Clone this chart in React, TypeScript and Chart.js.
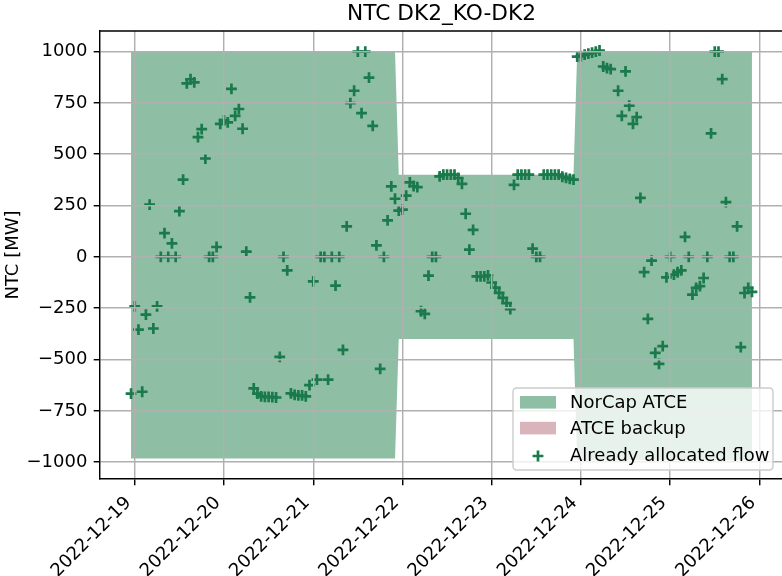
import React, { useEffect, useRef } from "react";
import { Chart, registerables } from "chart.js";

Chart.register(...registerables);

const TITLE = "NTC DK2_KO-DK2";
const Y_LABEL = "NTC [MW]";

// x values are hours since 2022-12-19 00:00
const fillHours = [-1, 70, 71, 118, 119, 166];
const fillUpper = [1000, 1000, 400, 400, 1000, 1000];
const fillLower = [-982, -982, -400, -400, -990, -990];

const flowHours = [
  -1, 0, 1, 2, 3, 4, 5, 6, 7, 8, 9, 10, 11, 12, 13, 14, 15, 16, 17, 18, 19, 20,
  21, 22, 23, 24, 25, 26, 27, 28, 29, 30, 31, 32, 33, 34, 35, 36, 37, 38, 39, 40,
  41, 42, 43, 44, 45, 46, 47, 48, 49, 50, 51, 52, 53, 54, 55, 56, 57, 58, 59, 60,
  61, 62, 63, 64, 65, 66, 67, 68, 69, 70, 71, 72, 73, 74, 75, 76, 77, 78, 79, 80,
  81, 82, 83, 84, 85, 86, 87, 88, 89, 90, 91, 92, 93, 94, 95, 96, 97, 98, 99, 100,
  101, 102, 103, 104, 105, 106, 107, 108, 109, 110, 111, 112, 113, 114, 115, 116,
  117, 118, 119, 120, 121, 122, 123, 124, 125, 126, 127, 128, 130, 131, 132, 133,
  134, 135, 136, 137, 138, 139, 140, 141, 142, 143, 144, 145, 146, 147, 148, 149,
  150, 151, 152, 153, 154, 155, 156, 157, 158, 159, 160, 161, 162, 163, 164, 165, 166,
];
const flowValues = [
  -666, -241, -354, -657, -281, 254, -349, -241, 0, 116, 0, 66, 0, 223, 376, 845, 865, 850, 583, 622, 479, 0,
  0, 48, 648, 665, 655, 818, 687, 720, 624, 25, -197, -641, -666, -680, -682, -682, -683, -685, -487, 0,
  -66, -665, -672, -675, -675, -680, -625, -119, -598, 0, 0, -598, 0, -140, 0, -453, 148, 749, 809, 1000,
  700, 1000, 873, 638, 56, -546, 0, 178, 343, 283, 225, 230, 298, 363, 345, 340, -265, -278, -91, 0,
  0, 392, 400, 400, 400, 400, 384, 355, 210, 35, 131, -95, -95, -95, -90, -125, -150, -175, -200, -225,
  -255, 351, 400, 400, 400, 400, 40, 0, 0, 400, 400, 400, 400, 400, 390, 385,
  380, 376, 975, 978, 985, 990, 995, 1000, 1005, 927, 919, 914, 809, 687, 903, 736,
  648, 681, 287, -74, -302, -18, -468, -521, -435, -100, 0, -87, -75, -66, 97, 0,
  -184, -151, -143, -103, 0, 601, 1000, 1000, 866, 267, 0, 0, 148, -440, -176, -151, -171,
];

const xTickLabels = [
  "2022-12-19", "2022-12-20", "2022-12-21", "2022-12-22",
  "2022-12-23", "2022-12-24", "2022-12-25", "2022-12-26",
];
const yTicks = [-1000, -750, -500, -250, 0, 250, 500, 750, 1000];
const legendLabels = ["NorCap ATCE", "ATCE backup", "Already allocated flow"];

const FILL_COLOR = "#8ebfa4";
const BACKUP_COLOR = "#d9b4bb";
const MARKER_COLOR = "#1a7a4c";
const GRID_COLOR = "#b0b0b0";
const FONT = '"DejaVu Sans", sans-serif';
const FS = 18;
const LW = 1.44;

function drawCross(ctx: CanvasRenderingContext2D, x: number, y: number, r: number, lw: number) {
  ctx.save();
  ctx.strokeStyle = MARKER_COLOR;
  ctx.lineWidth = lw;
  ctx.beginPath();
  ctx.moveTo(x - r, y);
  ctx.lineTo(x + r, y);
  ctx.moveTo(x, y - r);
  ctx.lineTo(x, y + r);
  ctx.stroke();
  ctx.restore();
}

const overlayPlugin = {
  id: "overlay",
  afterDraw(chart: any) {
    const { ctx, chartArea, scales } = chart;
    const { left, right, top, bottom } = chartArea;
    ctx.save();
    // top and right spines
    ctx.strokeStyle = "#000";
    ctx.lineWidth = LW;
    ctx.beginPath();
    ctx.moveTo(left, top);
    ctx.lineTo(right, top);
    ctx.lineTo(right, bottom);
    ctx.stroke();

    ctx.fillStyle = "#000";
    // title
    ctx.font = `21.7px ${FONT}`;
    ctx.textAlign = "center";
    ctx.textBaseline = "alphabetic";
    ctx.fillText(TITLE, (left + right) / 2, top - 10.8);

    // y label
    ctx.save();
    ctx.font = `${FS}px ${FONT}`;
    ctx.translate(18.3, (top + bottom) / 2);
    ctx.rotate(-Math.PI / 2);
    ctx.textAlign = "center";
    ctx.textBaseline = "alphabetic";
    ctx.fillText(Y_LABEL, 0, 0);
    ctx.restore();

    // x tick labels, rotated 45 degrees, right aligned to the tick
    ctx.font = `${FS}px ${FONT}`;
    xTickLabels.forEach((lab, i) => {
      const px = scales.x.getPixelForValue(i * 24);
      ctx.save();
      ctx.translate(px - 2.97, bottom + 24.5);
      ctx.rotate(-Math.PI / 4);
      ctx.textAlign = "right";
      ctx.textBaseline = "alphabetic";
      ctx.fillText(lab, 0, 0);
      ctx.restore();
    });

    // legend
    const lx = 513, ly = 388, lw = 260, lh = 82, rr = 4;
    ctx.beginPath();
    ctx.moveTo(lx + rr, ly);
    ctx.lineTo(lx + lw - rr, ly);
    ctx.quadraticCurveTo(lx + lw, ly, lx + lw, ly + rr);
    ctx.lineTo(lx + lw, ly + lh - rr);
    ctx.quadraticCurveTo(lx + lw, ly + lh, lx + lw - rr, ly + lh);
    ctx.lineTo(lx + rr, ly + lh);
    ctx.quadraticCurveTo(lx, ly + lh, lx, ly + lh - rr);
    ctx.lineTo(lx, ly + rr);
    ctx.quadraticCurveTo(lx, ly, lx + rr, ly);
    ctx.closePath();
    ctx.fillStyle = "rgba(255,255,255,0.8)";
    ctx.fill();
    ctx.strokeStyle = "#cccccc";
    ctx.lineWidth = 1.4;
    ctx.stroke();

    ctx.fillStyle = FILL_COLOR;
    ctx.fillRect(520, 396, 36, 12.6);
    ctx.fillStyle = BACKUP_COLOR;
    ctx.fillRect(520, 421.8, 36, 12.6);
    drawCross(ctx, 538, 456, 5.4, 2.7);

    ctx.fillStyle = "#000";
    ctx.font = `${FS}px ${FONT}`;
    ctx.textAlign = "left";
    ctx.textBaseline = "alphabetic";
    const baselines = [408, 434.3, 460.5];
    legendLabels.forEach((lab, i) => ctx.fillText(lab, 570, baselines[i]));
    ctx.restore();
  },
};

export default function App() {
  const canvasRef = useRef<HTMLCanvasElement | null>(null);

  useEffect(() => {
    const canvas = canvasRef.current;
    if (!canvas) return;
    Chart.defaults.color = "#000";
    Chart.defaults.font.family = FONT;

    const flowData = flowHours.map((h, i) => ({ x: h, y: flowValues[i] }));
    const upperData = fillHours.map((h, i) => ({ x: h, y: fillUpper[i] }));
    const lowerData = fillHours.map((h, i) => ({ x: h, y: fillLower[i] }));

    const gridOpts = {
      color: GRID_COLOR,
      lineWidth: LW,
      drawTicks: true,
      tickLength: 6.3,
      tickColor: "#000",
      tickWidth: LW,
      z: 1,
    };
    const borderOpts = { display: true, color: "#000", width: LW, z: 2 };

    const chart = new Chart(canvas, {
      type: "line",
      data: {
        datasets: [
          {
            label: legendLabels[2],
            data: flowData,
            showLine: false,
            pointStyle: "cross",
            pointRadius: 5.4,
            pointBorderWidth: 2.7,
            pointBorderColor: MARKER_COLOR,
            pointBackgroundColor: MARKER_COLOR,
            borderColor: MARKER_COLOR,
            backgroundColor: MARKER_COLOR,
          },
          {
            label: legendLabels[0],
            data: upperData,
            fill: "+1",
            borderWidth: 0,
            borderColor: "rgba(0,0,0,0)",
            backgroundColor: FILL_COLOR,
            pointRadius: 0,
            tension: 0,
          },
          {
            label: "lower",
            data: lowerData,
            fill: false,
            borderWidth: 0,
            borderColor: "rgba(0,0,0,0)",
            pointRadius: 0,
            tension: 0,
          },
        ],
      },
      options: {
        animation: false,
        responsive: false,
        devicePixelRatio: 1,
        events: [],
        layout: { padding: { top: 31, left: 0, right: 17, bottom: 0 } },
        plugins: {
          legend: { display: false },
          title: { display: false },
          tooltip: { enabled: false },
        },
        scales: {
          x: {
            type: "linear",
            min: -9.35,
            max: 174.35,
            afterBuildTicks: (scale: any) => {
              scale.ticks = xTickLabels.map((_, i) => ({ value: i * 24 }));
            },
            afterFit: (scale: any) => {
              scale.height = 97;
              scale.paddingLeft = 0;
              scale.paddingRight = 0;
            },
            ticks: { display: false, autoSkip: false },
            grid: gridOpts,
            border: borderOpts,
          },
          y: {
            type: "linear",
            min: -1082,
            max: 1100,
            afterBuildTicks: (scale: any) => {
              scale.ticks = yTicks.map((v) => ({ value: v }));
            },
            afterFit: (scale: any) => {
              scale.width = 100;
              scale.paddingTop = 0;
              scale.paddingBottom = 0;
            },
            ticks: {
              autoSkip: false,
              padding: 6.3,
              color: "#000",
              font: { family: FONT, size: FS },
              callback: (v: any) => {
                const n = Number(v);
                return n < 0 ? "\u2212" + Math.abs(n) : String(n);
              },
            },
            grid: gridOpts,
            border: borderOpts,
          },
        },
      },
      plugins: [overlayPlugin],
    } as any);

    return () => chart.destroy();
  }, []);

  return (
    <div
      style={{
        position: "absolute",
        left: 0,
        top: 0,
        width: 782,
        height: 576,
        overflow: "hidden",
        background: "#fff",
      }}
    >
      <canvas
        ref={canvasRef}
        width={800}
        height={576}
        style={{ display: "block", width: 800, height: 576 }}
      />
    </div>
  );
}
